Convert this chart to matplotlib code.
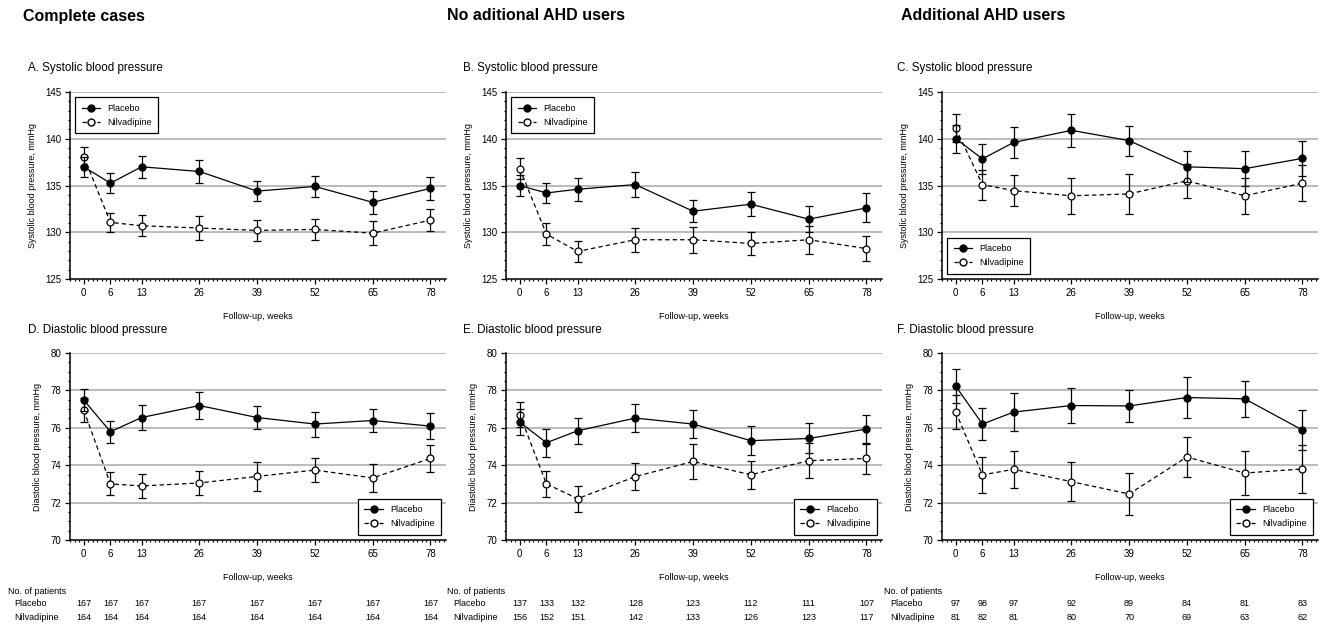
import matplotlib
matplotlib.use("Agg")
import matplotlib.pyplot as plt
from matplotlib.lines import Line2D
from matplotlib.ticker import MultipleLocator, FixedLocator
from matplotlib.transforms import blended_transform_factory

plt.rcParams.update({
    "font.family": ["Liberation Sans", "DejaVu Sans"],
    "font.size": 6.5,
    "axes.linewidth": 1.1,
    "xtick.labelsize": 7,
    "ytick.labelsize": 7,
    "xtick.major.size": 3.5,
    "ytick.major.size": 3.5,
    "xtick.minor.size": 1.5,
    "ytick.minor.size": 1.5,
})

WEEKS = [0, 6, 13, 26, 39, 52, 65, 78]

# ── Systolic (mean, error) ────────────────────────────────────────────────────
sys_complete_placebo = [137.0, 135.25, 137.0, 136.5, 134.4, 134.9, 133.2, 134.7]
sys_complete_placebo_err = [1.1, 1.1, 1.15, 1.2, 1.05, 1.1, 1.2, 1.25]
sys_complete_nilva = [138.1, 131.05, 130.7, 130.45, 130.2, 130.3, 129.9, 131.3]
sys_complete_nilva_err = [1.0, 1.05, 1.1, 1.25, 1.15, 1.15, 1.25, 1.15]

sys_noahd_placebo = [135.0, 134.2, 134.6, 135.1, 132.25, 133.0, 131.4, 132.6]
sys_noahd_placebo_err = [1.15, 1.1, 1.25, 1.3, 1.2, 1.3, 1.4, 1.55]
sys_noahd_nilva = [136.8, 129.8, 127.95, 129.2, 129.2, 128.8, 129.2, 128.25]
sys_noahd_nilva_err = [1.1, 1.15, 1.15, 1.3, 1.4, 1.25, 1.5, 1.3]

sys_ahd_placebo = [140.0, 137.85, 139.6, 140.9, 139.8, 137.0, 136.8, 137.9]
sys_ahd_placebo_err = [1.5, 1.6, 1.7, 1.8, 1.6, 1.65, 1.9, 1.85]
sys_ahd_nilva = [141.1, 135.1, 134.45, 133.9, 134.1, 135.5, 133.9, 135.25]
sys_ahd_nilva_err = [1.5, 1.6, 1.65, 1.9, 2.1, 1.85, 1.95, 1.9]

# ── Diastolic (mean, error) ───────────────────────────────────────────────────
dia_complete_placebo = [77.48, 75.79, 76.55, 77.19, 76.55, 76.2, 76.39, 76.09]
dia_complete_placebo_err = [0.6, 0.6, 0.65, 0.7, 0.6, 0.67, 0.62, 0.68]
dia_complete_nilva = [76.94, 73.0, 72.89, 73.05, 73.4, 73.74, 73.32, 74.36]
dia_complete_nilva_err = [0.65, 0.62, 0.64, 0.66, 0.77, 0.65, 0.75, 0.74]

dia_noahd_placebo = [76.3, 75.2, 75.84, 76.52, 76.2, 75.31, 75.43, 75.93]
dia_noahd_placebo_err = [0.68, 0.74, 0.71, 0.77, 0.75, 0.78, 0.8, 0.78]
dia_noahd_nilva = [76.71, 73.0, 72.21, 73.39, 74.2, 73.49, 74.24, 74.36]
dia_noahd_nilva_err = [0.65, 0.69, 0.7, 0.72, 0.92, 0.74, 0.94, 0.85]

dia_ahd_placebo = [78.22, 76.2, 76.84, 77.19, 77.17, 77.62, 77.55, 75.88]
dia_ahd_placebo_err = [0.92, 0.86, 1.0, 0.96, 0.85, 1.07, 0.95, 1.07]
dia_ahd_nilva = [76.84, 73.48, 73.78, 73.12, 72.46, 74.44, 73.58, 73.8]
dia_ahd_nilva_err = [0.93, 0.98, 0.98, 1.06, 1.1, 1.09, 1.2, 1.3]

# ── Number of patients ────────────────────────────────────────────────────────
n_complete_placebo = [167, 167, 167, 167, 167, 167, 167, 167]
n_complete_nilva = [164, 164, 164, 164, 164, 164, 164, 164]
n_noahd_placebo = [137, 133, 132, 128, 123, 112, 111, 107]
n_noahd_nilva = [156, 152, 151, 142, 133, 126, 123, 117]
n_ahd_placebo = [97, 98, 97, 92, 89, 84, 81, 83]
n_ahd_nilva = [81, 82, 81, 80, 70, 69, 63, 62]

GROUP_TITLES = ["Complete cases", "No aditional AHD users", "Additional AHD users"]
SYS_TITLES = ["A. Systolic blood pressure", "B. Systolic blood pressure", "C. Systolic blood pressure"]
DIA_TITLES = ["D. Diastolic blood pressure", "E. Diastolic blood pressure", "F. Diastolic blood pressure"]

W, H = 1321, 630
COL_LEFT = [70, 506, 942]
COL_W = 376
ROW_TOP = [92, 353]
ROW_H = 187
GRID_C = "#a8a8a8"
DASH = (0, (3.5, 2.5))
MS = 5.0


def px_rect(left, top, width, height):
    return [left / W, 1 - (top + height) / H, width / W, height / H]


def draw_panel(ax, placebo, placebo_err, nilva, nilva_err, ylim, ystep, yminor,
               ylabel, legend_loc):
    for y in range(ylim[0] + ystep, ylim[1] + 1, ystep):
        ax.axhline(y, color=GRID_C, linewidth=1.1, zorder=1)
    ax.errorbar(WEEKS, placebo, yerr=placebo_err, color="black", linestyle="-",
                linewidth=0.9, marker="o", markersize=MS, markerfacecolor="black",
                capsize=3, elinewidth=0.9, capthick=0.9, zorder=4)
    ax.errorbar(WEEKS, nilva, yerr=nilva_err, color="black", linestyle=DASH,
                linewidth=0.9, marker="o", markersize=MS, markerfacecolor="white",
                markeredgewidth=0.9, capsize=3, elinewidth=0.9, capthick=0.9,
                zorder=3)
    ax.set_xlim(-3.1, 81.5)
    ax.set_ylim(*ylim)
    ax.xaxis.set_major_locator(FixedLocator(WEEKS))
    ax.xaxis.set_minor_locator(MultipleLocator(1))
    ax.yaxis.set_major_locator(MultipleLocator(ystep))
    ax.yaxis.set_minor_locator(MultipleLocator(yminor))
    ax.spines["top"].set_visible(False)
    ax.spines["right"].set_visible(False)
    ax.set_ylabel(ylabel, fontsize=6.5, labelpad=6)
    ax.set_xlabel("Follow-up, weeks", fontsize=6.5, labelpad=10)
    ax.tick_params(axis="both", which="both", width=0.9, pad=3)
    handles = [
        Line2D([], [], color="black", linestyle="-", linewidth=0.9, marker="o",
               markersize=MS, markerfacecolor="black", label="Placebo"),
        Line2D([], [], color="black", linestyle=DASH, linewidth=0.9, marker="o",
               markersize=MS, markerfacecolor="white", label="Nilvadipine"),
    ]
    leg = ax.legend(handles=handles, loc=legend_loc, fontsize=6.5, frameon=True,
                    fancybox=False, edgecolor="black", framealpha=1,
                    handlelength=2.0, borderpad=0.7, labelspacing=0.6,
                    borderaxespad=0.6)
    leg.get_frame().set_linewidth(0.9)


fig = plt.figure(figsize=(W / 100, H / 100), dpi=100)

sys_data = [
    (sys_complete_placebo, sys_complete_placebo_err, sys_complete_nilva, sys_complete_nilva_err),
    (sys_noahd_placebo, sys_noahd_placebo_err, sys_noahd_nilva, sys_noahd_nilva_err),
    (sys_ahd_placebo, sys_ahd_placebo_err, sys_ahd_nilva, sys_ahd_nilva_err),
]
dia_data = [
    (dia_complete_placebo, dia_complete_placebo_err, dia_complete_nilva, dia_complete_nilva_err),
    (dia_noahd_placebo, dia_noahd_placebo_err, dia_noahd_nilva, dia_noahd_nilva_err),
    (dia_ahd_placebo, dia_ahd_placebo_err, dia_ahd_nilva, dia_ahd_nilva_err),
]
n_data = [
    (n_complete_placebo, n_complete_nilva),
    (n_noahd_placebo, n_noahd_nilva),
    (n_ahd_placebo, n_ahd_nilva),
]
sys_legend = ["upper left", "upper left", "lower left"]
header_x = [23, 447, 901]
title_x = [28, 463, 897]
table_x = [8, 447, 884]

for col in range(3):
    left = COL_LEFT[col]
    fig.text(header_x[col] / W, 1 - 16 / H, GROUP_TITLES[col], fontsize=11.5,
             fontweight="bold", ha="left", va="center")
    fig.text(title_x[col] / W, 1 - 68 / H, SYS_TITLES[col], fontsize=8.4,
             ha="left", va="center")
    fig.text(title_x[col] / W, 1 - 330 / H, DIA_TITLES[col], fontsize=8.4,
             ha="left", va="center")

    ax1 = fig.add_axes(px_rect(left, ROW_TOP[0], COL_W, ROW_H))
    draw_panel(ax1, *sys_data[col], (125, 145), 5, 1,
               "Systolic blood pressure, mmHg", sys_legend[col])

    ax2 = fig.add_axes(px_rect(left, ROW_TOP[1], COL_W, ROW_H))
    draw_panel(ax2, *dia_data[col], (70, 80), 2, 0.5,
               "Diastolic blood pressure, mmHg", "lower right")

    # patient count table
    tr = blended_transform_factory(ax2.transData, fig.transFigure)
    fig.text(table_x[col] / W, 1 - 591 / H, "No. of patients", fontsize=6.5,
             ha="left", va="center")
    fig.text((table_x[col] + 6) / W, 1 - 604 / H, "Placebo", fontsize=6.5,
             ha="left", va="center")
    fig.text((table_x[col] + 6) / W, 1 - 618 / H, "Nilvadipine", fontsize=6.5,
             ha="left", va="center")
    for wk, npl, nnv in zip(WEEKS, n_data[col][0], n_data[col][1]):
        ax2.text(wk, 1 - 604 / H, str(npl), transform=tr, fontsize=6.5,
                 ha="center", va="center")
        ax2.text(wk, 1 - 618 / H, str(nnv), transform=tr, fontsize=6.5,
                 ha="center", va="center")

fig.savefig("out.png", dpi=100)
